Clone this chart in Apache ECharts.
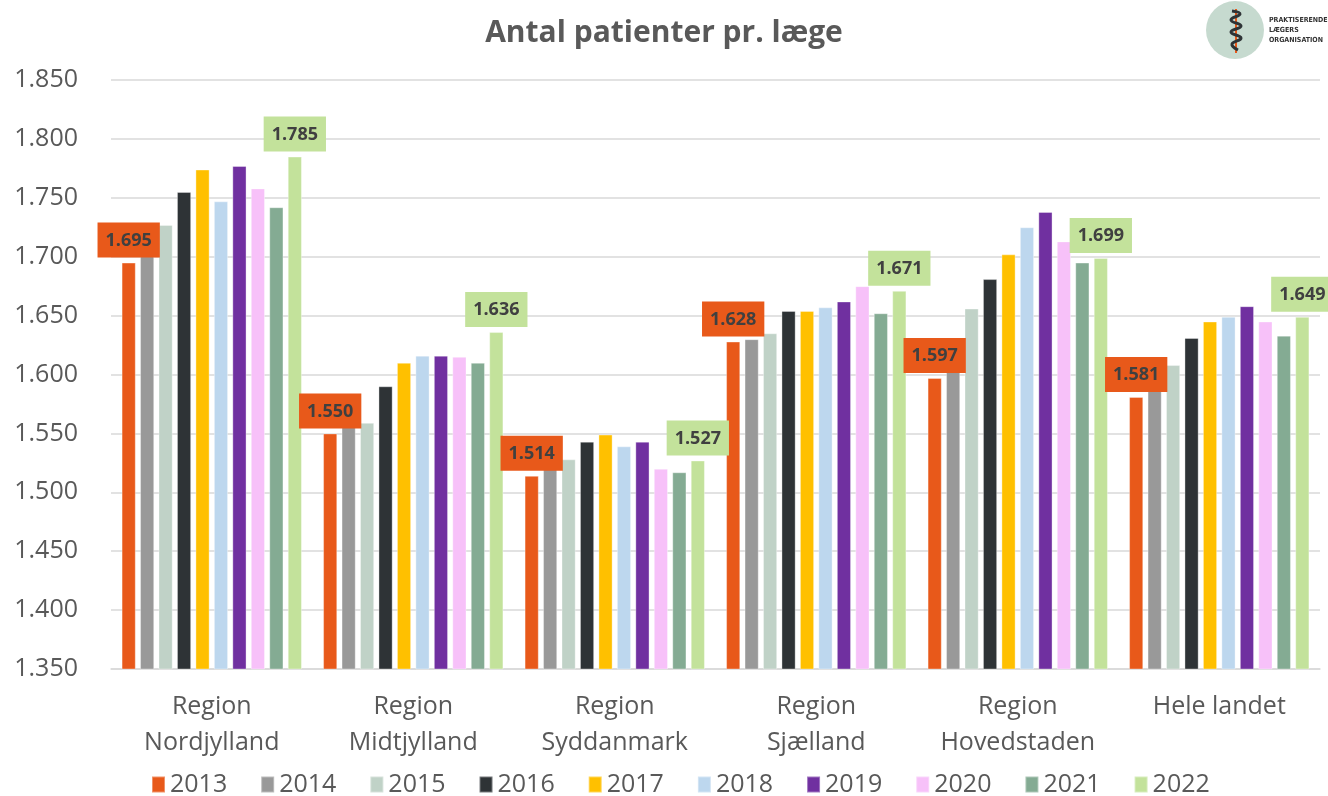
<!DOCTYPE html>
<html>
<head>
<meta charset="utf-8">
<script src="https://cdn.jsdelivr.net/npm/echarts@6/dist/echarts.min.js"></script>
<style>
html,body{margin:0;padding:0;background:#fff;}
#c{width:1328px;height:796px;}
</style>
</head>
<body>
<div id="c"></div>
<script>
const categories = ['Region\nNordjylland', 'Region\nMidtjylland', 'Region\nSyddanmark', 'Region\nSjælland', 'Region\nHovedstaden', 'Hele landet'];
const years = ['2013','2014','2015','2016','2017','2018','2019','2020','2021','2022'];
const v2013 = [1695, 1550, 1514, 1628, 1597, 1581];
const v2014 = [1712, 1557, 1521, 1630, 1631, 1594];
const v2015 = [1727, 1559, 1528, 1635, 1656, 1608];
const v2016 = [1755, 1590, 1543, 1654, 1681, 1631];
const v2017 = [1774, 1610, 1549, 1654, 1702, 1645];
const v2018 = [1747, 1616, 1539, 1657, 1725, 1649];
const v2019 = [1777, 1616, 1543, 1662, 1738, 1658];
const v2020 = [1758, 1615, 1520, 1675, 1713, 1645];
const v2021 = [1742, 1610, 1517, 1652, 1695, 1633];
const v2022 = [1785, 1636, 1527, 1671, 1699, 1649];
const yTicks = {min: 1350, max: 1850, interval: 50};

const seriesValues = [v2013, v2014, v2015, v2016, v2017, v2018, v2019, v2020, v2021, v2022];
const colors = ['#E8591A','#999999','#C0D2C7','#2E3336','#FFC000','#BDD7EE','#7030A0','#F7C1F9','#84AB93','#C3E29B'];

function fmt(v){ return String(v).replace(/\B(?=(\d{3})+(?!\d))/g, '.'); }

const series = years.map((y, i) => {
  const s = {
    name: y,
    type: 'bar',
    data: seriesValues[i],
    barGap: '30%',
    barCategoryGap: '10.5%',
    itemStyle: {color: colors[i], borderColor: 'rgba(255,255,255,0.35)', borderWidth: 1}
  };
  if (i === 0 || i === 9) {
    s.label = {
      show: true,
      position: 'top',
      distance: 5,
      formatter: p => fmt(p.value),
      backgroundColor: colors[i],
      color: '#404040',
      fontFamily: 'Open Sans',
      fontWeight: 'bold',
      fontSize: 18,
      padding: [9, 8, 8, 8]
    };
  }
  return s;
});

const chart = echarts.init(document.getElementById('c'));
chart.setOption({
  animation: false,
  backgroundColor: '#ffffff',
  title: {
    text: 'Antal patienter pr. læge',
    left: 'center',
    top: 13,
    textStyle: {fontFamily: 'Open Sans', fontWeight: 'bold', fontSize: 30, color: '#595959'}
  },
  grid: {left: 111, right: 8, top: 80, bottom: 127, containLabel: false},
  legend: {
    data: years,
    left: 146,
    top: 767,
    itemWidth: 13,
    itemHeight: 16,
    itemGap: 33,
    icon: 'rect',
    textStyle: {fontFamily: 'Open Sans', fontSize: 25, color: '#595959'}
  },
  xAxis: {
    type: 'category',
    data: categories,
    axisLine: {lineStyle: {color: '#D9D9D9', width: 1.5}},
    axisTick: {show: false},
    axisLabel: {fontFamily: 'Open Sans', fontSize: 25, color: '#595959', lineHeight: 36, margin: 20, interval: 0}
  },
  yAxis: {
    type: 'value',
    min: yTicks.min,
    max: yTicks.max,
    interval: yTicks.interval,
    axisLine: {show: false},
    axisTick: {show: false},
    splitLine: {lineStyle: {color: '#D9D9D9', width: 1.5}},
    axisLabel: {fontFamily: 'Open Sans', fontSize: 25, color: '#595959', margin: 33, formatter: v => fmt(v)}
  },
  series: series,
  graphic: [
    {type: 'circle', shape: {cx: 1235, cy: 30, r: 29}, style: {fill: '#C6DACF'}},
    {type: 'line', shape: {x1: 1236, y1: 9, x2: 1236, y2: 53}, style: {stroke: '#E8591A', lineWidth: 2}},
    {type: 'polyline', shape: {points: [[1232,11],[1240,14],[1231,20],[1241,26],[1231,32],[1241,38],[1232,44],[1238,50]], smooth: 0.5},
      style: {stroke: '#2E3336', lineWidth: 3, fill: null}},
    {type: 'text', left: 1269, top: 15, style: {text: 'PRAKTISERENDE\nLÆGERS\nORGANISATION', font: 'bold 7px "Liberation Sans Narrow", "DejaVu Sans Condensed", sans-serif', fill: '#333333', lineHeight: 10}}
  ]
});
</script>
</body>
</html>
